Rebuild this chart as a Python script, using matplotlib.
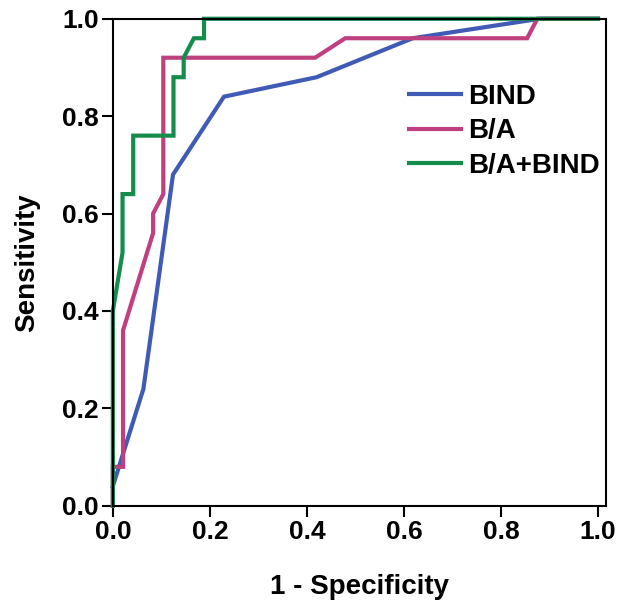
import matplotlib
matplotlib.use("Agg")
import matplotlib.pyplot as plt

# ROC curve points
bind_x = [0.0, 0.063, 0.124, 0.229, 0.42, 0.618, 0.88, 1.0]
bind_y = [0.04, 0.24, 0.68, 0.84, 0.88, 0.96, 1.0, 1.0]

ba_x = [0.0, 0.0, 0.021, 0.021, 0.083, 0.083, 0.104, 0.104, 0.417, 0.479, 0.854, 0.875, 1.0]
ba_y = [0.0, 0.08, 0.08, 0.36, 0.56, 0.60, 0.64, 0.92, 0.92, 0.96, 0.96, 1.0, 1.0]

comb_x = [0.0, 0.0, 0.02, 0.02, 0.042, 0.042, 0.125, 0.125, 0.146, 0.146, 0.167, 0.188, 0.188, 1.0]
comb_y = [0.0, 0.40, 0.52, 0.64, 0.64, 0.76, 0.76, 0.88, 0.88, 0.92, 0.96, 0.96, 1.0, 1.0]

names = ["BIND", "B/A", "B/A+BIND"]
colors = ["#3f5bb5", "#c0407f", "#138c4c"]
ticks = [0.0, 0.2, 0.4, 0.6, 0.8, 1.0]

plt.rcParams['font.family'] = ['Liberation Sans', 'DejaVu Sans']
plt.rcParams['font.weight'] = 'bold'

fig = plt.figure(figsize=(6.2, 6.05), dpi=100)
ax = fig.add_axes([0.182, 0.164, 0.795, 0.805])

ax.plot(bind_x, bind_y, color=colors[0], lw=3, label=names[0], clip_on=False, solid_joinstyle='miter')
ax.plot(ba_x, ba_y, color=colors[1], lw=3, label=names[1], clip_on=False, solid_joinstyle='miter')
ax.plot(comb_x, comb_y, color=colors[2], lw=3, label=names[2], clip_on=False, solid_joinstyle='miter')

ax.set_xlim(0, 1.016)
ax.set_ylim(0, 1.0)
ax.set_xticks(ticks)
ax.set_yticks(ticks)
ax.set_xticklabels(["%.1f" % t for t in ticks], fontsize=19, fontweight='bold')
ax.set_yticklabels(["%.1f" % t for t in ticks], fontsize=19, fontweight='bold')
ax.tick_params(direction='out', length=8, width=1.5, pad=2)
for s in ax.spines.values():
    s.set_linewidth(1.5)

ax.set_xlabel("1 - Specificity", fontsize=20, fontweight='bold', labelpad=22)
ax.set_ylabel("Sensitivity", fontsize=20, fontweight='bold', labelpad=16)

ax.legend(loc='upper left', bbox_to_anchor=(0.6, 0.866), frameon=False,
          prop={'size': 20, 'weight': 'bold'}, handlelength=1.9,
          labelspacing=0.3, handletextpad=0.25, borderpad=0, borderaxespad=0)

fig.savefig("out.png", dpi=100)
